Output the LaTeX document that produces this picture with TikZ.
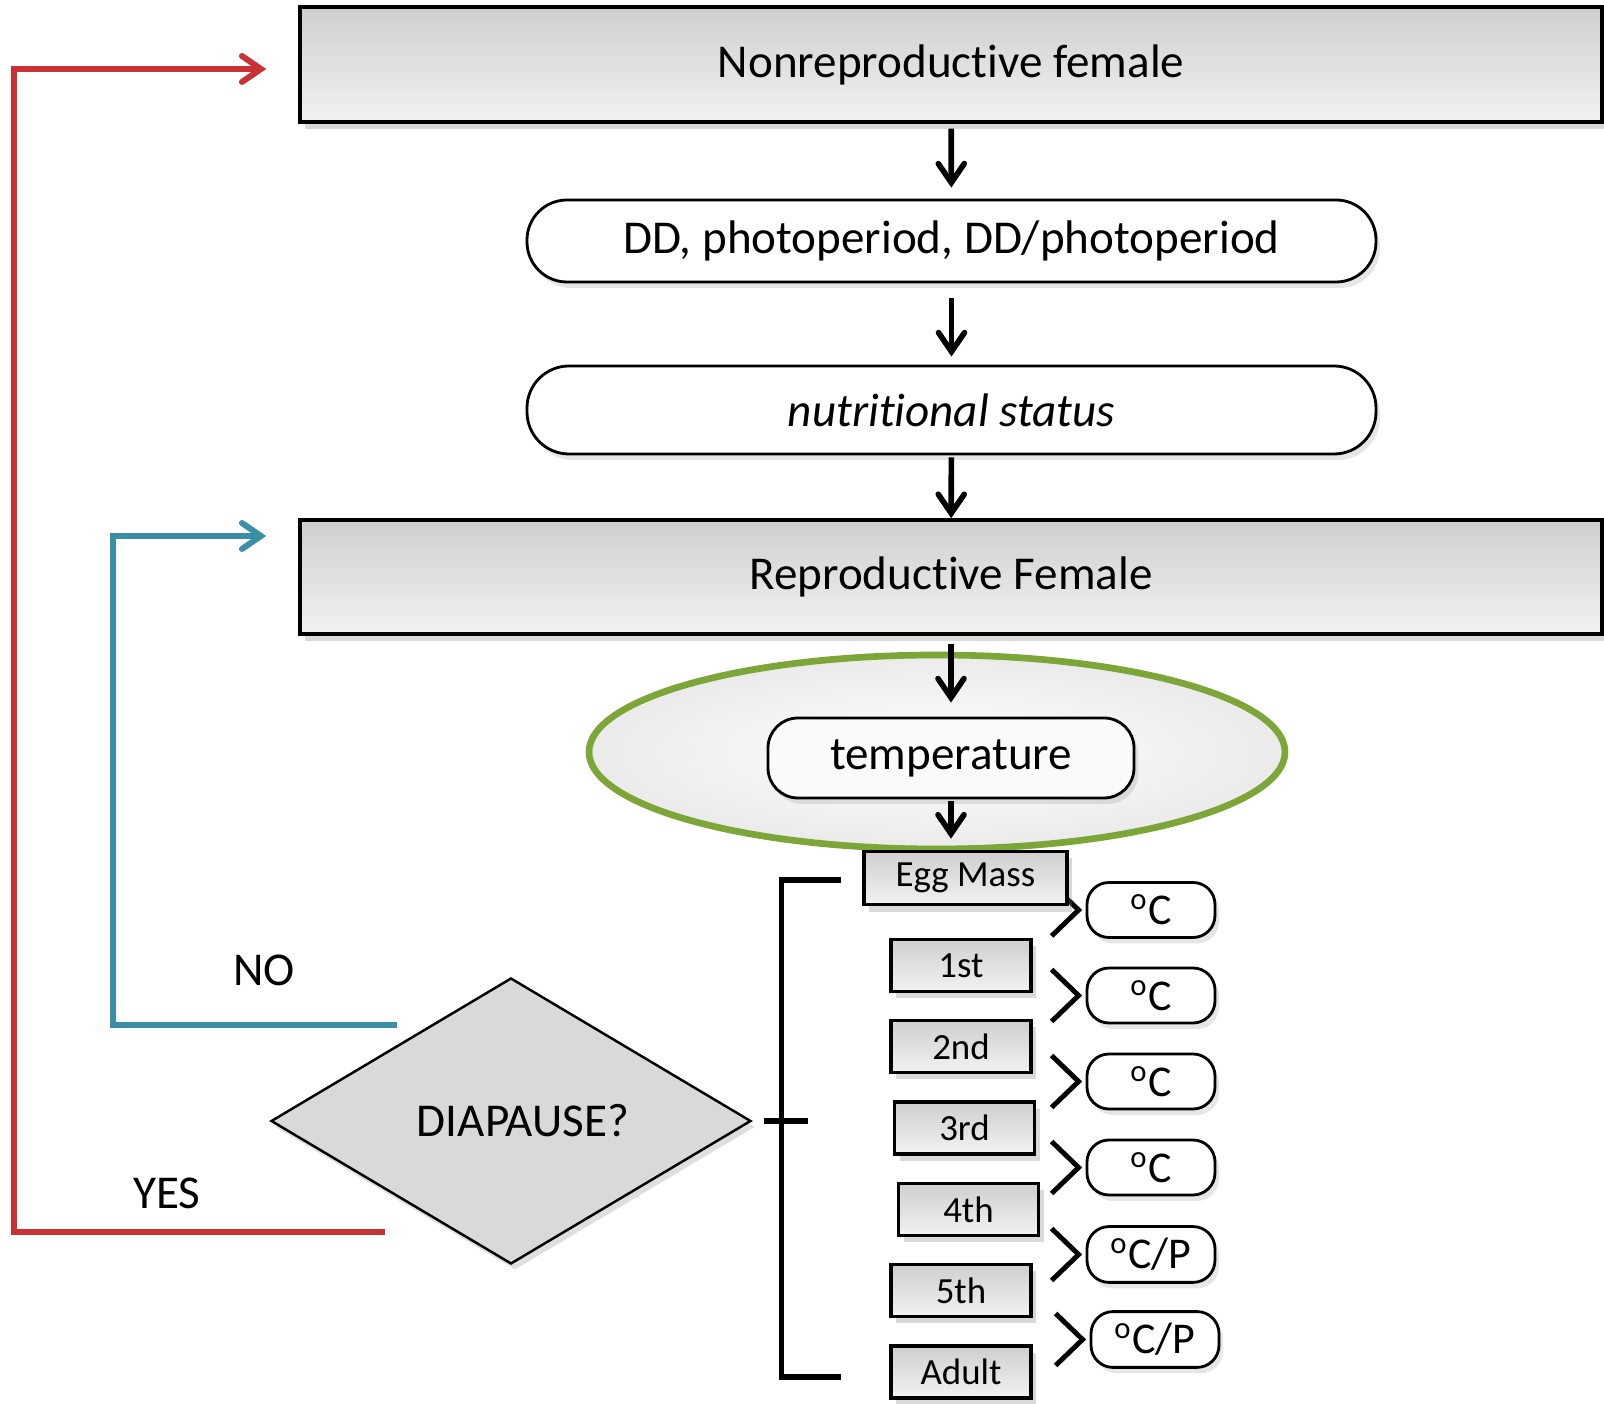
\documentclass[tikz,border=0pt]{standalone}
\usepackage{fontspec}
\setmainfont[Ligatures={NoCommon,NoContextual}, RawFeature={-dlig;-calt}]{Carlito}
\usetikzlibrary{shapes.geometric}
\usetikzlibrary{shadows}
\usetikzlibrary{arrows.meta}
\usetikzlibrary{calc}

\definecolor{yesred}{RGB}{200,50,50}
\definecolor{noteal}{RGB}{58,142,165}
\definecolor{zonegreen}{RGB}{124,166,56}
\newcommand{\degC}{\textsuperscript{o}C}

\begin{document}
\begin{tikzpicture}[y=-1cm]
\tikzset{stepbox/.style = {draw, line width=1pt, top color=gray!38, bottom color=gray!10, drop shadow={opacity=.3, shadow xshift=.5mm, shadow yshift=-.7mm}}}
\tikzset{roundbox/.style = {draw, line width=.8pt, fill=white, drop shadow={opacity=.2, shadow xshift=.4mm, shadow yshift=-.6mm}}}
\tikzset{edge/.style = {-{Straight Barb[length=1.9mm, width=2.6mm, line cap=round]}, line width=1.6pt}}
\tikzset{big/.style = {font=\fontsize{13.4}{16}\selectfont}}

   \useasboundingbox (0,0) rectangle (16.04,14.04);

   \node[stepbox, big, minimum width=13.02cm, minimum height=1.15cm] (nonrep) at (9.51,0.645) {Nonreproductive female};
   \node[roundbox, big, rounded corners=.4cm, minimum width=8.49cm, minimum height=.82cm] (photo) at (9.515,2.41) {DD, photoperiod, DD/photoperiod};
   \node[roundbox, big, rounded corners=.42cm, minimum width=8.49cm, minimum height=.88cm] (food) at (9.515,4.10) {\itshape nutritional status};
   \node[stepbox, big, minimum width=13.02cm, minimum height=1.14cm] (repro) at (9.51,5.77) {Reproductive Female};

   % temperature window
   \node[ellipse, draw=zonegreen, line width=1.9pt, inner color=white, outer color=gray!16, minimum width=6.96cm, minimum height=1.94cm] (zone) at (9.37,7.52) {};
   \node[roundbox, big, fill=gray!4, rounded corners=.3cm, minimum width=3.66cm, minimum height=.8cm] (temp) at (9.51,7.58) {temperature};

   \foreach \lab/\x/\y [count=\i] in {\degC/11.51/9.10, \degC/11.51/9.955, \degC/11.51/10.815, \degC/11.51/11.675, {\degC/P}/11.51/12.545, {\degC/P}/11.55/13.395}
     {\node[roundbox, font=\fontsize{12.5}{14}\selectfont, rounded corners=.22cm, minimum width=1.28cm, minimum height=.55cm] (t\i) at (\x,\y) {\lab};
      \draw[line width=1.4pt] ($(t\i.west)+(-.34,-.26)$) -- ($(t\i.west)+(-.07,0)$) -- ($(t\i.west)+(-.34,.26)$);}

   \foreach \lab/\x/\y/\w [count=\i] in {Egg Mass/9.655/8.78/2.03, 1st/9.61/9.655/1.40, 2nd/9.61/10.465/1.40, 3rd/9.645/11.28/1.40, 4th/9.685/12.095/1.40, 5th/9.61/12.905/1.40, Adult/9.61/13.72/1.40}
     {\node[stepbox, line width=.9pt, font=\fontsize{10.5}{12}\selectfont, minimum width=\w cm, minimum height=.52cm] (s\i) at (\x,\y) {\lab};}

   \draw[edge, shorten <=.5mm, shorten >=1.1mm] (nonrep) -- (photo);
   \draw[edge, shorten <=1.5mm, shorten >=.8mm] (photo) -- (food);
   \draw[edge, shorten <=.2mm] (food) -- (repro);
   \draw[edge, shorten <=.8mm, shorten >=1.4mm] (repro) -- (temp);
   \draw[edge, shorten <=.2mm, shorten >=1.1mm] (temp.south) -- (temp.south |- s1.north);

   \node[diamond, draw, fill=gray!30, line width=.7pt, minimum width=4.8cm, minimum height=2.86cm, aspect=1.68, inner sep=0pt, big, drop shadow={opacity=.25, shadow xshift=.4mm, shadow yshift=-.6mm}] (dia) at (5.11,11.21) {\hspace*{.24cm}DIAPAUSE?};

   \draw[line width=1.5pt] ($(s1.west)+(-.21,.02)$) -- ++(-.60,0) |- ($(s7.west)+(-.48,.05)$);
   \draw[line width=1.5pt] ($(dia.east)+(.12,0)$) -- ++(.44,0);

   \node[big] (no) at (2.64,9.70) {NO};
   \node[big] (yes) at (1.67,11.93) {YES};
   \coordinate (noend) at (3.97,10.25);
   \coordinate (yesend) at (3.85,12.32);
   \draw[edge, noteal, line width=1.7pt] (noend) -- ++(-2.84,0) |- ($(repro.west)+(-.32,-.41)$);
   \draw[edge, yesred, line width=1.7pt] (yesend) -- ++(-3.71,0) |- ($(nonrep.west)+(-.32,.045)$);

\end{tikzpicture}
\end{document}
